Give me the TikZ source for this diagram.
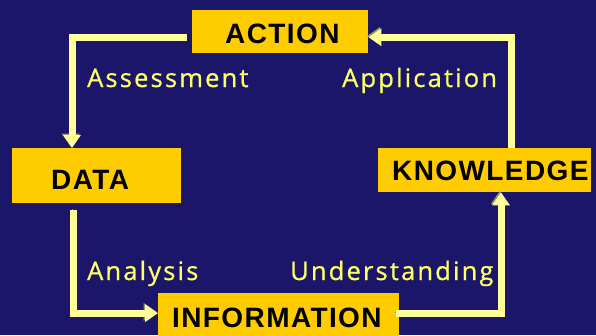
\documentclass[tikz,border=0pt]{standalone}
\usepackage{fontspec}
\usetikzlibrary{arrows.meta}
\newfontfamily\boxfont[LetterSpace=5]{Liberation Sans Bold}
\newfontfamily\labelfont[LetterSpace=8.5,FakeBold=0.8]{Open Sans}
\definecolor{bgc}{RGB}{28,22,106}
\definecolor{boxc}{RGB}{255,204,0}
\definecolor{arrowc}{RGB}{255,255,153}
\definecolor{shadowc}{RGB}{150,150,100}
\definecolor{labelc}{RGB}{255,255,102}
\tikzset{
  stage/.style={draw=none, fill=boxc, rectangle, inner sep=0pt, anchor=north west},
  stagetext/.style={inner sep=0pt, anchor=base west, text=black, font=\boxfont\fontsize{28}{30}\selectfont},
  flowlabel/.style={inner sep=0pt, anchor=base west, text=labelc, font=\labelfont\fontsize{25.5}{28}\selectfont},
  flow/.style={line width=7pt, draw=arrowc, -{Triangle[width=17pt,length=13pt]},
    preaction={draw=shadowc, transform canvas={shift={(-1.3pt,1.3pt)}}}}
}
\begin{document}
\begin{tikzpicture}[x=1pt,y=-1pt]
\fill[bgc] (0,0) rectangle (596,335);
\useasboundingbox (0,0) rectangle (596,335);
% boxes
\node[stage, minimum width=176pt, minimum height=43pt] (action) at (192,10) {};
\node[stage, minimum width=169pt, minimum height=55pt] (data) at (12,148) {};
\node[stage, minimum width=213pt, minimum height=44pt] (knowledge) at (378,148) {};
\node[stage, minimum width=241pt, minimum height=52pt] (information) at (158,293) {};
% box texts
\node[stagetext] (tact) at (225,43) {ACTION};
\node[stagetext] (tdata) at (51,189) {DATA};
\node[stagetext] (tknow) at (392,180) {KNOWLEDGE};
\node[stagetext] (tinfo) at (172,327) {INFORMATION};
% connectors
\draw[flow] ([xshift=-5pt,yshift=-5.5pt]action.west) -| ([xshift=60pt]data.north west);
\draw[flow] ([xshift=61pt,yshift=-7pt]data.south west) |- ([yshift=6pt]information.west);
\draw[flow] ([xshift=-3pt,yshift=6pt]information.east) -| ([xshift=123pt]knowledge.south west);
\draw[flow] ([xshift=133pt]knowledge.north west) |- ([yshift=-5.5pt]action.east);
% labels
\node[flowlabel] (lass) at (87,87) {Assessment};
\node[flowlabel] (lapp) at (342,87) {Application};
\node[flowlabel] (lana) at (87,280) {Analysis};
\node[flowlabel] (lund) at (290,280) {Understanding};
\end{tikzpicture}
\end{document}
